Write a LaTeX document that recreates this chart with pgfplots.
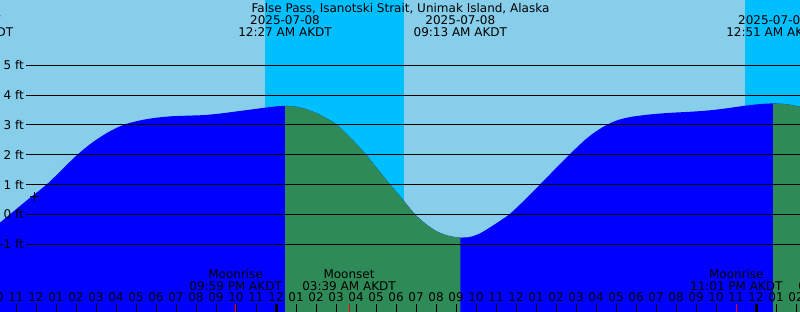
\documentclass[border=0pt]{standalone}
\usepackage{fontspec}
\setmainfont{DejaVu Sans}
\usepackage{pgfplots}
\pgfplotsset{compat=1.18}
\usepackage{pgfplotstable}

\definecolor{daysky}{HTML}{87CEEB}
\definecolor{nightsky}{HTML}{00BFFF}
\definecolor{flood}{HTML}{0000FF}
\definecolor{ebb}{HTML}{2E8B57}

% tide height (ft) vs hours after midnight 2025-07-08 AKDT
\pgfplotstableread{
h ft
-13.8 -0.28
-13.3 0.00
-12.4 0.50
-11.47 1.00
-10.7 1.50
-9.93 2.00
-9.2 2.40
-8.4 2.75
-7.63 3.00
-6.8 3.15
-6.0 3.24
-5.2 3.29
-4.4 3.31
-3.6 3.33
-2.8 3.38
-2.0 3.45
-1.2 3.52
-0.4 3.59
0.0 3.62
0.45 3.64
1.0 3.61
1.5 3.53
2.0 3.40
2.5 3.23
3.05 3.00
3.75 2.55
4.5 2.00
5.1 1.50
5.7 1.00
6.33 0.50
6.95 0.00
7.5 -0.33
8.0 -0.56
8.5 -0.70
8.9 -0.76
9.22 -0.78
9.7 -0.76
10.2 -0.64
10.7 -0.44
11.2 -0.22
11.67 0.00
12.2 0.33
12.7 0.66
13.2 1.00
13.9 1.48
14.67 2.00
15.37 2.45
15.87 2.72
16.45 2.97
17.0 3.14
17.6 3.25
18.3 3.32
19.0 3.37
19.85 3.41
20.7 3.44
21.55 3.48
22.35 3.54
23.2 3.62
24.05 3.69
24.85 3.72
25.55 3.69
26.2 3.61
}\tide

\tikzset{lbl/.style={font=\fontsize{12bp}{12bp}\selectfont, inner sep=0pt, anchor=base, text=black}}

\begin{document}
\begin{tikzpicture}
\useasboundingbox (0,0) rectangle (800bp,312bp);
\clip (0,0) rectangle (800bp,312bp);
\begin{axis}[at={(0,0)}, anchor=south west, scale only axis,
  width=800bp, height=312bp,
  xmin=-13.8, xmax=26.2, ymin=-3.279, ymax=7.191,
  hide axis, clip=true]
% day background
\addplot[fill=daysky, draw=none] coordinates {(-13.8,-3.4) (-13.8,7.3) (26.2,7.3) (26.2,-3.4)} -- cycle;
% night bands
\addplot[fill=nightsky, draw=none] coordinates {(-0.55,-3.4) (-0.55,7.3) (6.4,7.3) (6.4,-3.4)} -- cycle;
\addplot[fill=nightsky, draw=none] coordinates {(23.45,-3.4) (23.45,7.3) (26.5,7.3) (26.5,-3.4)} -- cycle;
% rising tide
\addplot[fill=flood, draw=none, smooth] table[x=h,y=ft] {\tide} -- (axis cs:26.2,-3.4) -- (axis cs:-13.8,-3.4) -- cycle;
% falling tide
\addplot[fill=ebb, draw=none, smooth, restrict x to domain=0.44:9.23] table[x=h,y=ft] {\tide} -- (axis cs:9.22,-3.4) -- (axis cs:0.45,-3.4) -- cycle;
\addplot[fill=ebb, draw=none, smooth, restrict x to domain=24.84:26.3] table[x=h,y=ft] {\tide} -- (axis cs:26.2,-3.4) -- (axis cs:24.85,-3.4) -- cycle;
% grid lines
\pgfplotsinvokeforeach{-1,...,5}{
  \addplot[black, line width=1bp] coordinates {(-12.5,#1) (26.2,#1)};
}
% current time mark
\addplot[only marks, mark=+, mark size=4.5bp, black, line width=1bp] coordinates {(-12.085,0.59)};
\pgfplotsextra{
  \foreach \v/\t in {5/5 ft,4/4 ft,3/3 ft,2/2 ft,1/1 ft,0/0 ft,-1/-1 ft}{
    \node[lbl, anchor=base east, yshift=-4.6bp] at (axis cs:-12.6,\v) {\t};
  }
  % title and tide events
  \node[lbl, yshift=-12.6bp] at (axis cs:6.225,7.191) {False Pass, Isanotski Strait, Unimak Island, Alaska};
  \foreach \h/\d/\t in {-15.47/2025-07-07/08:32 AM AKDT, 0.45/2025-07-08/12:27 AM AKDT, 9.217/2025-07-08/09:13 AM AKDT, 24.85/2025-07-09/12:51 AM AKDT}{
    \node[lbl, yshift=-24.7bp] at (axis cs:\h,7.191) {\d};
    \node[lbl, yshift=-36.7bp] at (axis cs:\h,7.191) {\t};
  }
  % moon events
  \foreach \h/\n/\t in {-2.017/Moonrise/09:59 PM AKDT, 3.65/Moonset/03:39 AM AKDT, 23.017/Moonrise/11:01 PM AKDT, 28.45/Moonset/04:27 AM AKDT}{
    \node[lbl, yshift=33.7bp] at (axis cs:\h,-3.279) {\n};
    \node[lbl, yshift=22bp] at (axis cs:\h,-3.279) {\t};
  }
  % hour labels
  \foreach \h/\l in {-14/10,-13/11,-12/12,-11/01,-10/02,-9/03,-8/04,-7/05,-6/06,-5/07,-4/08,-3/09,-2/10,-1/11,0/12,1/01,2/02,3/03,4/04,5/05,6/06,7/07,8/08,9/09,10/10,11/11,12/12,13/01,14/02,15/03,16/04,17/05,18/06,19/07,20/08,21/09,22/10,23/11,24/12,25/01,26/02}{
    \node[lbl, yshift=10.3bp] at (axis cs:\h,-3.279) {\l};
  }
  % hour ticks
  \foreach \h in {-13,...,-1,1,2,...,23,25,26}{
    \draw[black, line width=1bp] (axis cs:\h,-3.3) -- (axis cs:\h,-3.011);
  }
  \foreach \h in {0,24}{
    \draw[black, line width=3bp] (axis cs:\h,-3.3) -- (axis cs:\h,-3.011);
  }
  \foreach \h in {-2.017,3.65,23.017}{
    \draw[red, line width=1bp] (axis cs:\h,-3.3) -- (axis cs:\h,-3.011);
  }
}
\end{axis}
\end{tikzpicture}
\end{document}
